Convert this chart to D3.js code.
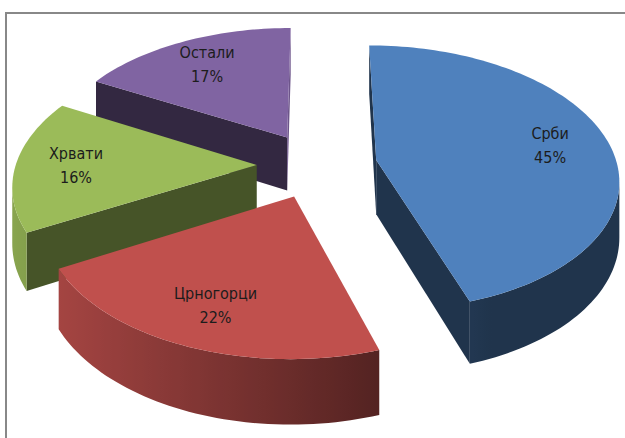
<!DOCTYPE html>
<html>
<head>
<meta charset="utf-8">
<script src="https://cdnjs.cloudflare.com/ajax/libs/d3/7.8.5/d3.min.js"></script>
<style>
    body { margin: 0; background: #fff; }
    .lbl { font-family: "Liberation Sans Narrow", "DejaVu Sans Condensed", sans-serif; font-size: 16px; fill: #1c1c1c; }
</style>
</head>
<body>
<div id="chart"></div>
<script>
// data
var categories = ["Срби", "Црногорци", "Хрвати", "Остали"];
var values = [45, 22, 16, 17];
var colors = ["#4F81BD", "#C0504D", "#9BBB59", "#8064A2"];

var width = 625, height = 438;

// 3d view of the pie: screen centre, scale, tilt, perspective distance
var cx = 317, cy = 165, K = 241;
var tilt = 33 * Math.PI / 180, dist = 6.2, thick = 0.27, explode = 0.25;
var labelR = 0.75;

function project(X, Z, H) {
    var yc = H * Math.cos(tilt) - Z * Math.sin(tilt);
    var s = dist / (dist - Z * Math.cos(tilt));
    return [cx + K * X * s, cy - K * yc * s];
}

function shade(c, f) {
    var r = d3.rgb(c);
    return d3.rgb(r.r * f, r.g * f, r.b * f).formatHex();
}

// outer rim is lit from the left
function light(ang) {
    return Math.max(0.4, 0.5 + 0.38 * Math.cos(ang - 262 * Math.PI / 180));
}
// cut faces: only those turned to the right catch light
function cutLight(normal) {
    var c = Math.max(0, Math.cos(normal - Math.PI / 2));
    return 0.4 + 0.45 * c * c * c;
}

function signedArea(p) {
    var s = 0;
    for (var i = 0; i < p.length; i++) {
        var j = (i + 1) % p.length;
        s += p[i][0] * p[j][1] - p[j][0] * p[i][1];
    }
    return s / 2;
}

var svg = d3.select("#chart")
    .append("svg")
    .attr("width", width)
    .attr("height", height);
var defs = svg.append("defs");

// chart frame (right and bottom edges fall outside the picture)
svg.append("rect")
    .attr("x", 6).attr("y", 13)
    .attr("width", 700).attr("height", 500)
    .attr("fill", "none")
    .attr("stroke", "#888")
    .attr("stroke-width", 2);

var pie = d3.pie().sort(null).value(function (d) { return d; });
var arcs = pie(values);
var line = d3.line().curve(d3.curveLinearClosed);
var pct = d3.format(".0%");

var slices = arcs.map(function (a, i) {
    var a0 = a.startAngle, a1 = a.endAngle;
    var mid = (a0 + a1) / 2;
    var ox = explode * Math.sin(mid), oz = -explode * Math.cos(mid);
    var pt = function (ang, r, h) {
        return project(ox + r * Math.sin(ang), oz - r * Math.cos(ang), h);
    };
    var n = Math.ceil((a1 - a0) / (Math.PI / 120));
    var angs = d3.range(n + 1).map(function (k) { return a0 + (a1 - a0) * k / n; });
    var faces = [];
    faces.push({ pts: [pt(0, 0, 0), pt(0, 0, -thick), pt(a0, 1, -thick), pt(a0, 1, 0)],
        fill: shade(colors[i], cutLight(a0 - Math.PI / 2)) });
    faces.push({ pts: [pt(0, 0, 0), pt(a1, 1, 0), pt(a1, 1, -thick), pt(0, 0, -thick)],
        fill: shade(colors[i], cutLight(a1 + Math.PI / 2)) });

    // visible part of the outer rim, one shape with a gradient
    var vis = d3.range(n).filter(function (k) {
        var g0 = angs[k], g1 = angs[k + 1];
        return signedArea([pt(g1, 1, 0), pt(g0, 1, 0), pt(g0, 1, -thick), pt(g1, 1, -thick)]) > 0;
    });
    if (vis.length) {
        var rimAngs = angs.slice(d3.min(vis), d3.max(vis) + 2);
        var rim = rimAngs.map(function (g) { return pt(g, 1, 0); })
            .concat(rimAngs.slice().reverse().map(function (g) { return pt(g, 1, -thick); }));
        var stops = vis.map(function (k) {
            var m = (angs[k] + angs[k + 1]) / 2;
            return { x: pt(m, 1, 0)[0], c: shade(colors[i], light(m)) };
        }).sort(function (p, q) { return p.x - q.x; });
        var x0 = stops[0].x, x1 = stops[stops.length - 1].x + 0.01;
        var grad = defs.append("linearGradient")
            .attr("id", "rim" + i)
            .attr("gradientUnits", "userSpaceOnUse")
            .attr("x1", x0).attr("x2", x1).attr("y1", 0).attr("y2", 0);
        grad.selectAll("stop").data(stops).enter().append("stop")
            .attr("offset", function (d) { return (d.x - x0) / (x1 - x0); })
            .attr("stop-color", function (d) { return d.c; });
        faces.push({ pts: rim, fill: "url(#rim" + i + ")", keep: true });
    }
    faces.push({ pts: [pt(0, 0, 0)].concat(angs.map(function (g) { return pt(g, 1, 0); })), fill: colors[i] });
    return {
        name: categories[i],
        share: (a1 - a0) / (2 * Math.PI),
        depth: oz,
        faces: faces.filter(function (fc) { return fc.keep || signedArea(fc.pts) > 0; }),
        label: pt(mid, labelR, 0)
    };
});

// paint from back to front
slices.sort(function (p, q) { return p.depth - q.depth; });

var g = svg.selectAll("g.slice")
    .data(slices)
    .enter()
    .append("g")
    .attr("class", "slice");

g.selectAll("path")
    .data(function (d) { return d.faces; })
    .enter()
    .append("path")
    .attr("d", function (d) { return line(d.pts); })
    .attr("fill", function (d) { return d.fill; });

// labels on top
var lbl = svg.selectAll("g.lbl")
    .data(slices)
    .enter()
    .append("g")
    .attr("transform", function (d) { return "translate(" + d.label[0] + "," + d.label[1] + ")"; });
lbl.append("text").attr("class", "lbl").attr("text-anchor", "middle").attr("y", -6)
    .text(function (d) { return d.name; });
lbl.append("text").attr("class", "lbl").attr("text-anchor", "middle").attr("y", 18)
    .text(function (d) { return pct(d.share); });
</script>
</body>
</html>
